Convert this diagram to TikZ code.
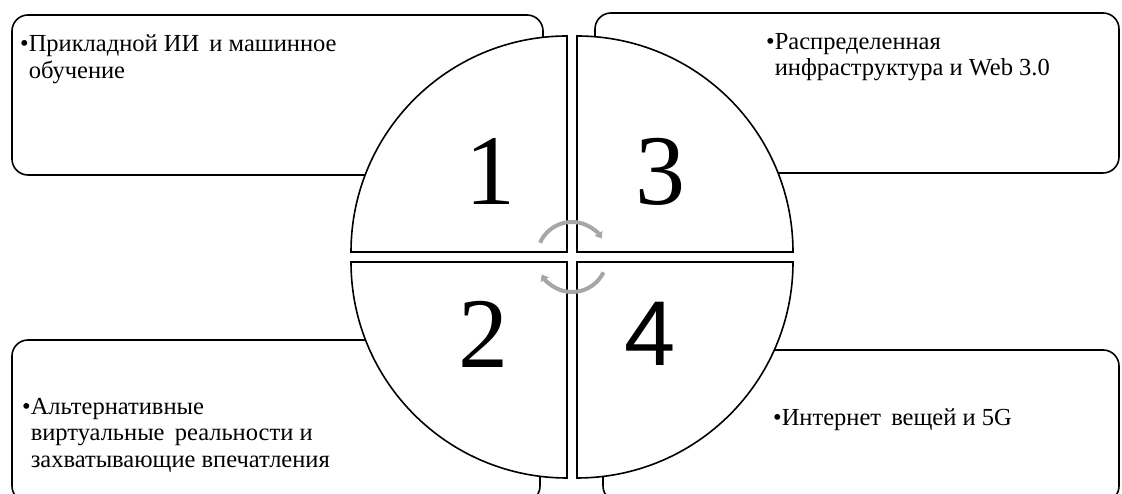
\documentclass[tikz,border=0pt]{standalone}
\usepackage{fontspec}
\setmainfont{Liberation Serif}
\newfontfamily\digsans{Liberation Sans}
\usetikzlibrary{arrows.meta,calc}
\definecolor{arrowgray}{HTML}{A6A6A6}
\begin{document}
\begin{tikzpicture}[x=1pt,y=1pt,
  box/.style={draw=black, line width=1.6pt, fill=white, rounded corners=16pt},
  wedge/.style={draw=black, line width=1.6pt, fill=white},
  itemtext/.style={anchor=north west, inner sep=0pt, align=left, font=\fontsize{24.5}{26.5}\selectfont},
  digit/.style={inner sep=0pt, font=\fontsize{100}{100}\selectfont},
  cyc/.style={draw=arrowgray, line width=4pt, -{Triangle[width=9pt,length=6pt]}}]
\useasboundingbox (0,0) rectangle (1122,494);
% boxes
\draw[box] (12,319) rectangle (543,479);
\draw[box] (595,321) rectangle (1119,481);
\draw[box] (12,-8) rectangle (540,154);
\draw[box] (603,-8) rectangle (1119,144);
% wedges
\draw[wedge] (567,242) -- ++(-216,0) arc[start angle=180, end angle=90, radius=216] -- cycle;
\draw[wedge] (577,242) -- ++(0,216) arc[start angle=90, end angle=0, radius=216] -- cycle;
\draw[wedge] (567,232) -- ++(-216,0) arc[start angle=180, end angle=270, radius=216] -- cycle;
\draw[wedge] (577,232) -- ++(216,0) arc[start angle=0, end angle=-90, radius=216] -- cycle;
% cycle arrows
\coordinate (c) at (572,237);
\draw[cyc] ($(c)+(156:35)$) arc[start angle=156, end angle=32, radius=35];
\draw[cyc] ($(c)+(-26:35)$) arc[start angle=-26, end angle=-150, radius=35];
% digits
\node[digit] (d1) at (490,322) {1};
\node[digit] (d3) at (660,322) {3};
\node[digit] (d2) at (483,160) {2};
\node[digit, font=\fontsize{92}{92}\selectfont\digsans] (d4) at (650,160) {4};
% texts
\node[itemtext] (t1) at (20,459) {•Прикладной ИИ\, и машинное\\\phantom{•}обучение};
\node[itemtext] (t3) at (766,461) {•Распределенная\\\phantom{•}инфраструктура и Web 3.0};
\node[itemtext] (t2) at (22,96) {•Альтернативные\\\phantom{•}виртуальные\, реальности и\\\phantom{•}захватывающие впечатления};
\node[itemtext] (t4) at (773,85) {•Интернет\, вещей и 5G};
\end{tikzpicture}
\end{document}
